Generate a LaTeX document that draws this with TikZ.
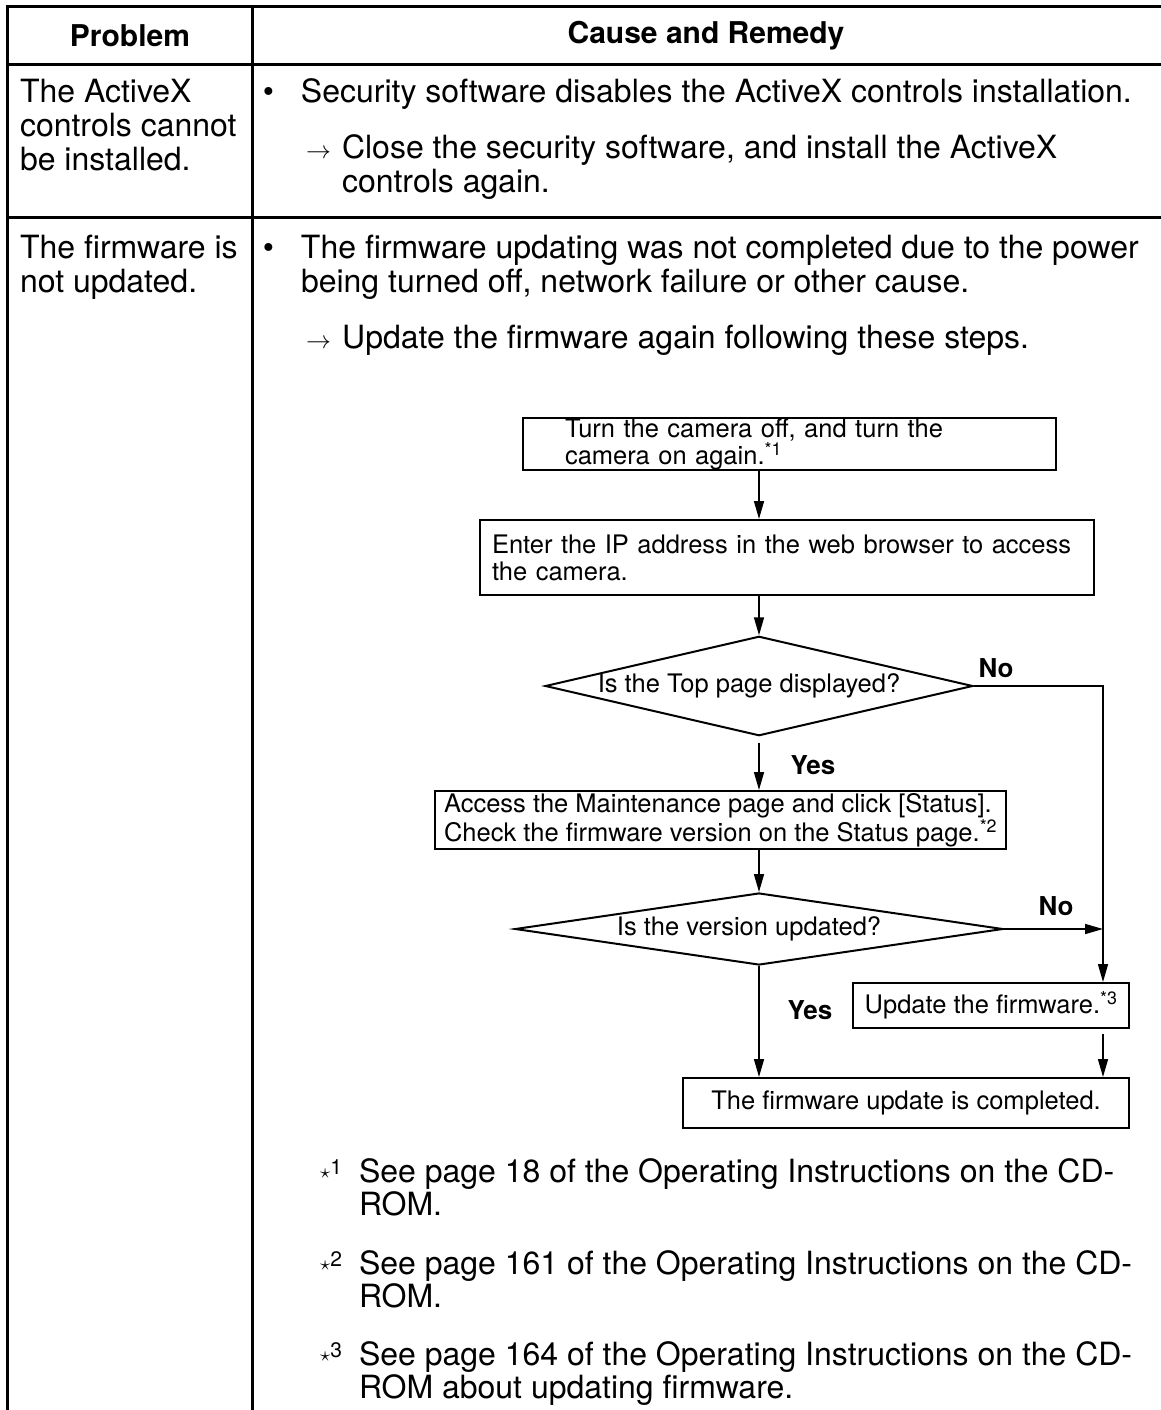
\documentclass[tikz,border=0pt]{standalone}
\usepackage{fontspec}
\setmainfont{TeX Gyre Heros}
\usetikzlibrary{arrows.meta, positioning, shapes.geometric}

\newcommand{\notemark}[1]{\raisebox{4pt}{\fontsize{21}{21}\selectfont$\star$}\raisebox{8pt}{\fontsize{21}{21}\selectfont#1}\hspace{17pt}}

\begin{document}
\begin{tikzpicture}[x=1pt, y=-1pt, >={Triangle[length=18pt,width=10pt]}, line width=2pt]
\tikzstyle{rule}=[line width=3pt]
\tikzstyle{head}=[font=\fontsize{30}{34}\selectfont\bfseries]
\tikzstyle{body}=[font=\fontsize{32}{34}\selectfont, align=left, anchor=north west, inner sep=0pt]
\tikzstyle{note}=[body, font=\fontsize{32}{33}\selectfont]
\tikzstyle{box}=[draw, font=\fontsize{25.5}{27}\selectfont, anchor=north west, align=left, inner ysep=0pt]
\tikzstyle{decision}=[draw, diamond, font=\fontsize{25.5}{27}\selectfont, inner sep=0pt]
\tikzstyle{answer}=[font=\fontsize{26}{27}\selectfont\bfseries]
\tikzstyle{flow}=[->, line width=1.6pt]

% Specify the spine and the side rail of the chart
\def\spine{759}
\def\rail{1103}
\coordinate (spine) at (\spine,0);
\coordinate (rail) at (\rail,0);

\useasboundingbox (0,0) rectangle (1161,1410);

% Draw the table rules
\draw[rule] (7.5,1412) -- (7.5,7) -- (1165,7);
\draw[rule] (7.5,65) -- (1165,65);
\draw[rule] (7.5,217) -- (1165,217);
\draw[rule] (252,7) -- (252,1412);

% Header row
\node[head] (problem) at (130,36) {Problem};
\node[head] (cause) at (706,36) {Cause and Remedy};

% First problem
\node[body] (issue-1) at (19,78) {The ActiveX\\controls cannot\\be installed.};
\node[body] (reason-1) at (300,78) {\llap{\textbullet\hspace{27pt}}Security software disables the ActiveX controls installation.};
\node[body] (remedy-1) at (341,134) {\llap{$\rightarrow$\hspace{11pt}}Close the security software, and install the ActiveX\\controls again.};

% Second problem
\node[body] (issue-2) at (19,234) {The firmware is\\not updated.};
\node[body] (reason-2) at (300,234) {\llap{\textbullet\hspace{27pt}}The firmware updating was not completed due to the power\\being turned off, network failure or other cause.};
\node[body] (remedy-2) at (341,324) {\llap{$\rightarrow$\hspace{11pt}}Update the firmware again following these steps.};

% Draw the chart steps
\node[box, text width=449pt, inner xsep=42pt, minimum height=52pt] (restart) at (522,417) {Turn the camera off, and turn the\\camera on again.\textsuperscript{*1}};
\node[box, text width=590pt, inner xsep=12pt, minimum height=75pt] (login) at (479,519) {Enter the IP address in the web browser to access\\the camera.};
\node[decision, minimum width=423pt, minimum height=98pt, shape aspect=4.3] (topcheck) at (\spine,686) {Is the Top page displayed?\hspace*{20pt}};
\node[box, minimum width=560pt, inner xsep=9pt, minimum height=58pt] (status) at (434,790) {Access the Maintenance page and click [Status].\\Check the firmware version on the Status page.\textsuperscript{*2}};
\node[decision, minimum width=488pt, minimum height=72pt, shape aspect=6.8] (vercheck) at (\spine,929) {Is the version updated?\hspace*{20pt}};
\node[box, minimum width=276pt, inner xsep=6pt, minimum height=45pt] (update) at (852,982) {Update the firmware.\textsuperscript{*3}};
\node[box, minimum width=446pt, inner xsep=10pt, minimum height=50pt] (finish) at (682,1077) {The firmware update is completed.};

% Answers
\node[answer] (no-1) at (996,668) {No};
\node[answer] (yes-1) at (813,765) {Yes};
\node[answer] (no-2) at (1056,906) {No};
\node[answer] (yes-2) at (810,1010) {Yes};

% Connect the steps
\draw[flow] (restart.south -| spine) -- (login.north -| spine);
\draw[flow] (login.south -| spine) -- (topcheck.north);
\draw[flow, shorten <=6pt] (topcheck.south) -- (status.north -| spine);
\draw[flow] (status.south -| spine) -- (vercheck.north);
\draw[flow] (vercheck.south) -- (finish.north -| spine);
\draw[flow] (topcheck.east) -| (update.north -| rail);
\draw[flow] (vercheck.east) -- (vercheck.east -| rail);
\draw[flow, shorten <=5pt] (update.south -| rail) -- (finish.north -| rail);

% Footnotes
\node[note] (note-1) at (358,1158) {\llap{\notemark{1}}See page 18 of the Operating Instructions on the CD-\\ROM.};
\node[note] (note-2) at (358,1250) {\llap{\notemark{2}}See page 161 of the Operating Instructions on the CD-\\ROM.};
\node[note] (note-3) at (358,1341) {\llap{\notemark{3}}See page 164 of the Operating Instructions on the CD-\\ROM about updating firmware.};

\end{tikzpicture}
\end{document}
